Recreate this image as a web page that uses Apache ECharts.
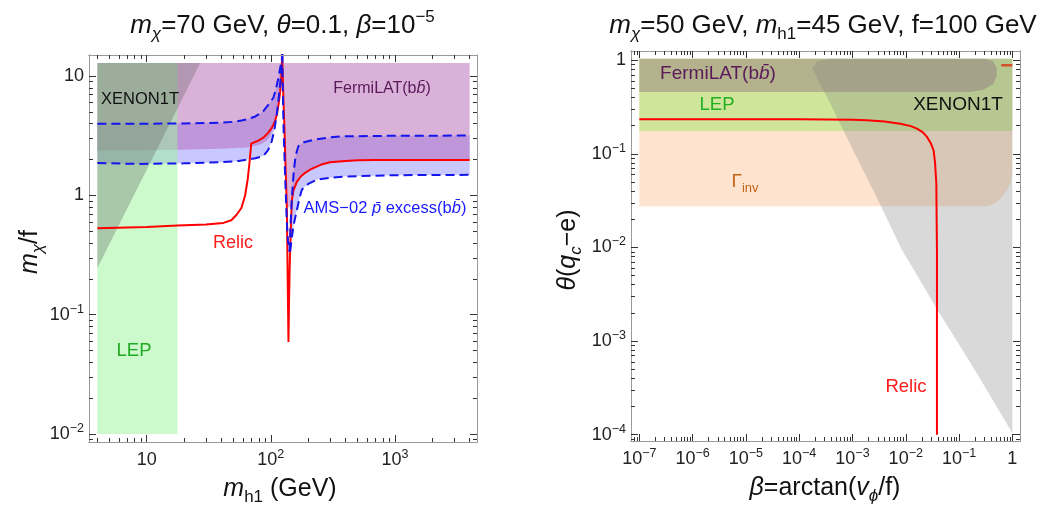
<!DOCTYPE html>
<html><head><meta charset="utf-8">
<script src="https://cdn.jsdelivr.net/npm/echarts@6/dist/echarts.min.js"></script>
<style>html,body{margin:0;padding:0;background:#fff}#c{width:1045px;height:506px}</style>
</head><body><div id="c"></div>
<script>
// ---------------- LEFT PANEL DATA (m_h1 [GeV] vs m_chi/f) ----------------
const relicL_x = [4, 10, 17.7, 30, 41.5, 48, 53, 58, 62, 65, 67, 68.5, 69.5, 80, 87, 95, 102, 108, 112, 116, 119, 121.5, 122.8, 123.3, 124, 126, 128.8, 131.5, 134.6, 136.8, 138.7, 140, 141.5, 142.5, 144.6, 147.6, 152, 162, 175, 189, 210, 227, 260, 300, 400, 500, 700, 1000, 2000, 4000];
const relicL_y = [0.532, 0.545, 0.56, 0.572, 0.589, 0.62, 0.69, 0.79, 1.0, 1.35, 1.8, 2.3, 2.72, 2.9, 3.05, 3.35, 3.71, 4.2, 4.8, 6.0, 7.5, 10, 13, 16, 12.5, 6.9, 3.56, 1.7, 0.79, 0.19, 0.059, 0.12, 0.22, 0.3, 0.51, 0.9, 1.1, 1.3, 1.45, 1.55, 1.66, 1.72, 1.83, 1.9, 1.95, 1.97, 1.98, 1.98, 1.98, 1.98];

const amsUL_x = [4, 10, 20, 30, 41, 50, 58, 64, 75, 87, 96, 104.8, 110, 115.2, 119, 122.7, 123.5];
const amsUL_y = [3.99, 4.0, 4.02, 4.05, 4.08, 4.15, 4.25, 4.35, 4.6, 5.1, 5.8, 6.6, 7.8, 9.75, 11.8, 13.5, 20];
const amsLL_x = [4, 8.3, 20, 40, 55, 64, 75, 87, 95, 101.8, 107, 111.7, 115, 118.9, 121.5, 123.3, 124];
const amsLL_y = [1.87, 1.84, 1.86, 1.9, 1.95, 2.0, 2.05, 2.14, 2.4, 2.86, 3.6, 4.8, 6.2, 8.57, 11, 14, 20];
const amsD_x = [123.5, 124.5, 126.7, 130.5, 134.6, 137.5, 140.5];
const amsD_y = [20, 9, 3.56, 1.4, 0.59, 0.42, 0.34];
const amsUR_x = [141.5, 144, 147, 150, 153, 157, 162, 167, 185, 227, 300, 362, 1000, 4000];
const amsUR_y = [0.34, 0.55, 0.85, 1.2, 1.6, 2.0, 2.35, 2.6, 2.8, 2.94, 3.07, 3.13, 3.17, 3.18];
const amsLR_x = [143, 148, 152, 157, 162, 170, 178, 200, 235, 300, 385, 1000, 4000];
const amsLR_y = [0.34, 0.45, 0.55, 0.65, 0.75, 0.95, 1.12, 1.25, 1.36, 1.41, 1.44, 1.48, 1.49];

const fermiL_x = [4, 4000, 4000, 2000, 1000, 700, 500, 400, 300, 260, 227, 210, 189, 175, 162, 152, 147.6, 146.5, 134.6, 131.5, 128.8, 126, 124, 122.3, 121, 119, 115, 112, 107, 100, 93, 80, 64, 40, 17.7, 4];
const fermiL_y = [12.9, 12.9, 1.98, 1.98, 1.98, 1.98, 1.97, 1.95, 1.9, 1.83, 1.72, 1.66, 1.55, 1.45, 1.3, 1.1, 0.9, 0.81, 0.79, 1.7, 3.56, 6.9, 12.9, 12.9, 11, 8, 5.8, 4.8, 3.95, 3.2, 2.86, 2.65, 2.52, 2.46, 2.42, 2.38];
const lepL_x = [4, 17.7, 17.7, 4];
const lepL_y = [0.01, 0.01, 12.9, 12.9];
const xenL_x = [4, 27, 4];
const xenL_y = [12.9, 12.9, 0.247];

const tickL_xMajor = [10, 100, 1000];
const tickL_xMinor = [4, 5, 6, 7, 8, 9, 20, 30, 40, 50, 60, 70, 80, 90, 200, 300, 400, 500, 600, 700, 800, 900, 2000, 3000, 4000];
const tickL_yMajor = [0.01, 0.1, 1, 10];
const tickL_yMinor = [0.009, 0.02, 0.03, 0.04, 0.05, 0.06, 0.07, 0.08, 0.09, 0.2, 0.3, 0.4, 0.5, 0.6, 0.7, 0.8, 0.9, 2, 3, 4, 5, 6, 7, 8, 9];

// ---------------- RIGHT PANEL DATA (beta vs theta) ----------------
const relicR_x = [1e-7, 1e-5, 1e-4, 1e-3, 1.87e-3, 4e-3, 7.9e-3, 0.0125, 0.0162, 0.021, 0.025, 0.0295, 0.0333, 0.0355, 0.0375, 0.038, 0.0385, 0.0385];
const relicR_y = [0.234, 0.234, 0.234, 0.232, 0.229, 0.222, 0.21, 0.198, 0.186, 0.17, 0.152, 0.13, 0.109, 0.08, 0.048, 0.02, 0.0093, 1e-4];
const gammaR_x = [1e-7, 1, 1, 0.95, 0.785, 0.62, 0.509, 0.4, 0.331, 1e-7];
const gammaR_y = [1.04, 1.04, 0.0668, 0.05, 0.0408, 0.034, 0.0306, 0.0285, 0.0275, 0.0275];
const lepR_x = [1e-7, 1, 1, 1e-7];
const lepR_y = [1.04, 1.04, 0.176, 0.176];
const fermiR_x = [1e-7, 0.308, 0.434, 0.509, 0.509, 0.434, 0.282, 0.161, 1e-7];
const fermiR_y = [1.04, 1.04, 0.976, 0.822, 0.675, 0.554, 0.484, 0.458, 0.458];
const xenR_x = [3.81e-4, 1, 1, 0.1995, 0.0382, 0.01858, 8.54e-3, 3.03e-3, 1.035e-3, 3.81e-4, 1.75e-4, 2.18e-4];
const xenR_y = [1.04, 1.04, 1.04e-4, 4.87e-4, 2.22e-3, 4.46e-3, 9.33e-3, 0.0319, 0.109, 0.347, 0.821, 0.976];
const markR_x = [0.62, 1.0];
const markR_y = [0.885, 0.885];

const tickR_xMajor = [1e-7, 1e-6, 1e-5, 1e-4, 1e-3, 1e-2, 1e-1, 1];
const tickR_yMajor = [1e-4, 1e-3, 1e-2, 1e-1, 1];
function decadeMinors(lo, hi) { const out = []; for (let e = lo; e <= hi; e++) for (let k = 2; k <= 9; k++) out.push(k * Math.pow(10, e)); return out; }
const tickR_xMinor = [8e-8, 9e-8].concat(decadeMinors(-7, -1));
const tickR_yMinor = [9e-5].concat(decadeMinors(-4, -1));

// ---------------- RENDERING ----------------
const FONT = "'Liberation Sans', Arial, sans-serif";
const L = Math.log10;
const chart = echarts.init(document.getElementById('c'), null, {renderer: 'canvas'});

function expFmt(v) {
  const e = Math.round(v);
  if (e === 0) return '1';
  if (e === 1) return '10';
  return '10{s|' + (e < 0 ? '\u2212' + (-e) : e) + '}';
}

function mkAxis(gridIndex, pos, min, max, vals, len, labelVals) {
  const a = {
    type: 'value', gridIndex: gridIndex, position: pos, min: min, max: max, z: 10,
    axisLine: {show: true, onZero: false, lineStyle: {color: '#9a9a9a', width: 1}},
    axisTick: {show: true, inside: true, length: len, customValues: vals.map(L), lineStyle: {color: '#333', width: 1}},
    splitLine: {show: false}, minorTick: {show: false}, splitArea: {show: false}
  };
  if (labelVals) {
    a.axisLabel = {show: true, customValues: labelVals.map(L), formatter: expFmt, color: '#222',
      fontFamily: FONT, fontSize: 18, lineHeight: 24,
      margin: (pos === 'bottom') ? 6 : 5,
      rich: {s: {fontSize: 12.5, fontFamily: FONT, color: '#222', verticalAlign: 'top', lineHeight: 12}}};
  } else {
    a.axisLabel = {show: false};
  }
  return a;
}

const lxMin = 0.5347, lxMax = 3.6613, lyMin = -2.067, lyMax = 1.178;
const rxMin = -7.156, rxMax = 0.144, ryMin = -4.068, ryMax = 0.0994;

const xAxes = [
  mkAxis(0, 'bottom', lxMin, lxMax, tickL_xMajor, 7, tickL_xMajor),
  mkAxis(0, 'bottom', lxMin, lxMax, tickL_xMinor, 4, null),
  mkAxis(0, 'top', lxMin, lxMax, tickL_xMajor, 7, null),
  mkAxis(0, 'top', lxMin, lxMax, tickL_xMinor, 4, null),
  mkAxis(1, 'bottom', rxMin, rxMax, tickR_xMajor, 7, tickR_xMajor),
  mkAxis(1, 'bottom', rxMin, rxMax, tickR_xMinor, 4, null),
  mkAxis(1, 'top', rxMin, rxMax, tickR_xMajor, 7, null),
  mkAxis(1, 'top', rxMin, rxMax, tickR_xMinor, 4, null)
];
const yAxes = [
  mkAxis(0, 'left', lyMin, lyMax, tickL_yMajor, 7, tickL_yMajor),
  mkAxis(0, 'left', lyMin, lyMax, tickL_yMinor, 4, null),
  mkAxis(0, 'right', lyMin, lyMax, tickL_yMajor, 7, null),
  mkAxis(0, 'right', lyMin, lyMax, tickL_yMinor, 4, null),
  mkAxis(1, 'left', ryMin, ryMax, tickR_yMajor, 7, tickR_yMajor),
  mkAxis(1, 'left', ryMin, ryMax, tickR_yMinor, 4, null),
  mkAxis(1, 'right', ryMin, ryMax, tickR_yMajor, 7, null),
  mkAxis(1, 'right', ryMin, ryMax, tickR_yMinor, 4, null)
];

function lineS(ai, xs, ys, color, width, dash) {
  return {type: 'line', xAxisIndex: ai, yAxisIndex: ai, silent: true, symbol: 'none', clip: true,
    data: xs.map((x, i) => [L(x), L(ys[i])]),
    lineStyle: {color: color, width: width, type: dash || 'solid'}};
}
function polyS(ai, xs, ys, fill, yCap) {
  return {type: 'custom', xAxisIndex: ai, yAxisIndex: ai, silent: true, data: [[0, 0]],
    renderItem: function (params, api) {
      const pts = xs.map((x, i) => api.coord([L(x), Math.min(L(ys[i]), yCap)]));
      return {type: 'polygon', shape: {points: pts}, style: {fill: fill}};
    }};
}
function polyPair(ai, xa, ya, xb, yb, fill, yCap) {
  return polyS(ai, xa.concat(xb.slice().reverse()), ya.concat(yb.slice().reverse()), fill, yCap);
}

const cap = L(12.9);
const DASH = [9, 5];
const BLUE = '#1515ee';
const series = [
  lineS(0, relicL_x, relicL_y, '#ff0000', 2),
  polyPair(0, amsUL_x, amsUL_y, amsLL_x, amsLL_y, 'rgba(145,145,255,0.5)', cap),
  polyPair(0, amsUR_x, amsUR_y, amsLR_x, amsLR_y, 'rgba(145,145,255,0.5)', cap),
  polyS(0, fermiL_x, fermiL_y, 'rgba(180,100,180,0.5)', cap),
  polyS(0, lepL_x, lepL_y, 'rgba(153,245,153,0.5)', cap),
  polyS(0, xenL_x, xenL_y, 'rgba(104,104,104,0.35)', cap),
  lineS(0, amsUL_x, amsUL_y, BLUE, 2, DASH),
  lineS(0, amsLL_x, amsLL_y, BLUE, 2, DASH),
  lineS(0, amsD_x, amsD_y, BLUE, 2, DASH),
  lineS(0, amsUR_x, amsUR_y, BLUE, 2, DASH),
  lineS(0, amsLR_x, amsLR_y, BLUE, 2, DASH),

  lineS(4, relicR_x, relicR_y, '#ff0000', 2),
  polyS(4, gammaR_x, gammaR_y, 'rgba(253,190,140,0.42)', 1),
  polyS(4, lepR_x, lepR_y, 'rgba(160,230,100,0.5)', 1),
  polyS(4, fermiR_x, fermiR_y, 'rgba(130,80,120,0.35)', 1),
  polyS(4, xenR_x, xenR_y, 'rgba(128,128,128,0.3)', 1),
  lineS(4, markR_x, markR_y, '#d4502a', 2.5)
];

function txt(x, y, text, size, color, extra) {
  const f = size + 'px ' + FONT;
  const fi = 'italic ' + f;
  const fs = 'italic ' + Math.round(size * 0.66) + 'px ' + FONT;
  const fsu = Math.round(size * 0.66) + 'px ' + FONT;
  const lh = Math.round(size * 1.3);
  const el = {type: 'text', x: x, y: y, z: 100, silent: true,
    style: {text: text, font: f, fill: color, align: 'center', verticalAlign: 'middle', lineHeight: lh,
      rich: {
        i: {font: fi, fill: color, lineHeight: lh},
        sub: {font: fs, fill: color, verticalAlign: 'bottom', lineHeight: Math.round(size * 0.75)},
        subu: {font: fsu, fill: color, verticalAlign: 'bottom', lineHeight: Math.round(size * 0.75)},
        sup: {font: fsu, fill: color, verticalAlign: 'top', lineHeight: Math.round(size * 0.66)},
        ib: {font: fi, fill: color, lineHeight: lh}
      }}};
  if (extra) Object.assign(el, extra);
  return el;
}

const graphics = [
  txt(282.5, 26, '{i|m}{sub|\u03c7}=70 GeV, {i|\u03b8}=0.1, {i|\u03b2}=10{sup|\u22125}', 26, '#111'),
  txt(823, 26, '{i|m}{sub|\u03c7}=50 GeV, {i|m}{subu|h1}=45 GeV, f=100 GeV', 26, '#111'),
  txt(280, 489, '{i|m}{subu|h1} (GeV)', 25, '#111'),
  txt(825, 488, '{i|\u03b2}=arctan({i|v}{sub|\u03d5}/f)', 25, '#111'),
  txt(30, 252, '{i|m}{sub|\u03c7}/f', 25, '#111', {rotation: Math.PI / 2}),
  txt(568, 250, '{i|\u03b8}({i|q}{sub|c}\u2212e)', 25, '#111', {rotation: Math.PI / 2}),

  txt(140, 99, 'XENON1T', 16.5, '#111'),
  txt(382, 89, 'FermiLAT(b{ib|b\u0304})', 16, '#5a1a5a'),
  txt(385, 208, 'AMS\u221202 {ib|p\u0304} excess(b{ib|b\u0304})', 16.5, '#1a1aff'),
  txt(233, 243, 'Relic', 18, '#ff1a1a'),
  txt(134, 351, 'LEP', 18.5, '#22aa22'),

  txt(718, 74, 'FermiLAT(b{ib|b\u0304})', 19, '#5a1a5a'),
  txt(717, 105, 'LEP', 18.5, '#22b022'),
  txt(745, 182, '\u0393{subu|inv}', 19, '#c0651a'),
  txt(958, 105, 'XENON1T', 19, '#111'),
  txt(906, 387, 'Relic', 18.5, '#ff1a1a')
];

chart.setOption({
  animation: false,
  backgroundColor: '#fff',
  grid: [
    {left: 89, top: 55, width: 388, height: 387, show: false},
    {left: 631, top: 51, width: 389, height: 390, show: false}
  ],
  xAxis: xAxes,
  yAxis: yAxes,
  series: series,
  graphic: graphics
});
</script></body></html>
